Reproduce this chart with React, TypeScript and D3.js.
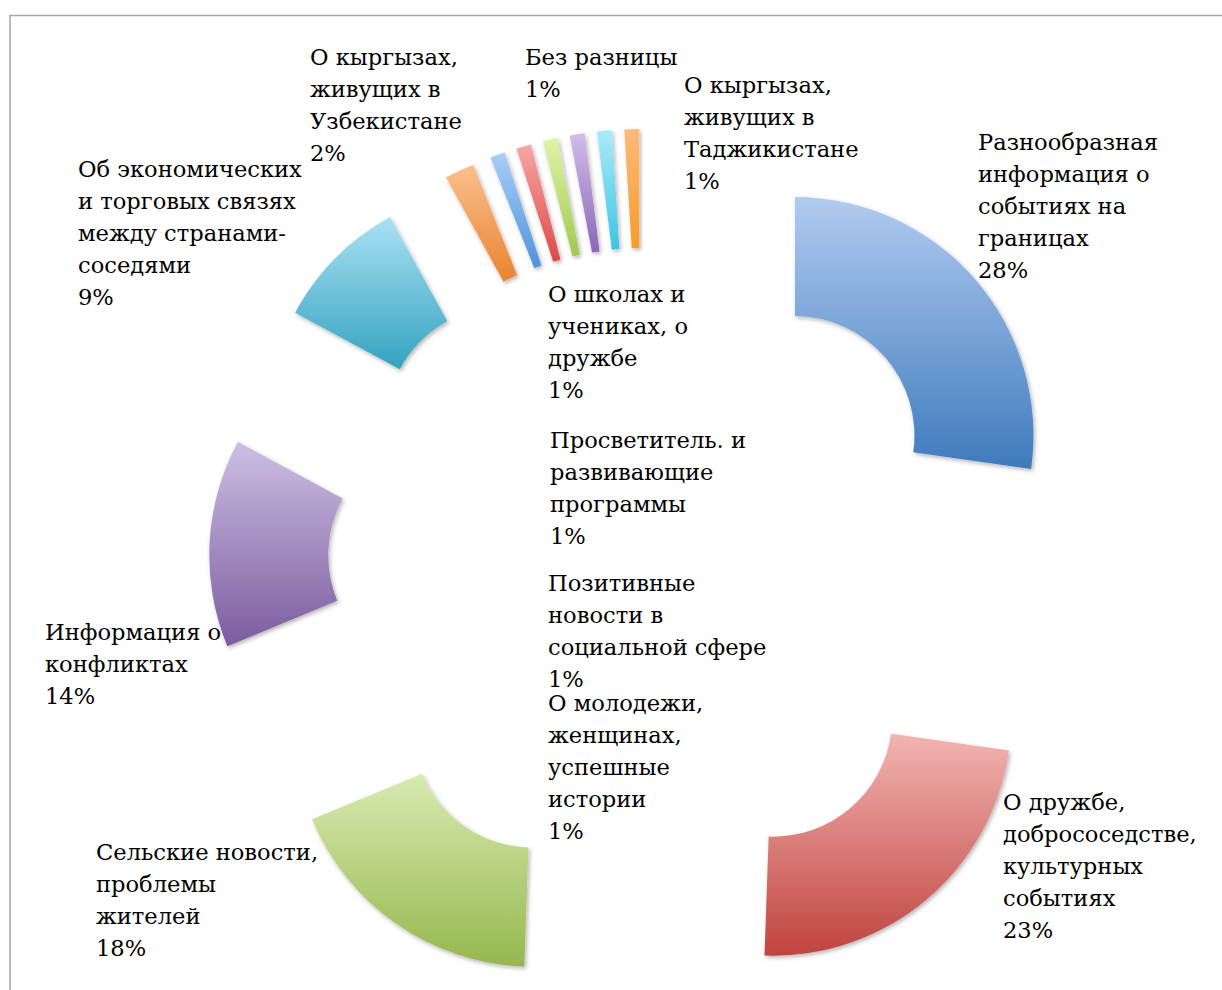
import React from "react";
import * as d3 from "d3";

const categories: string[] = [
  "Разнообразная\nинформация о\nсобытиях на\nграницах",
  "О дружбе,\nдобрососедстве,\nкультурных\nсобытиях",
  "Сельские новости,\nпроблемы\nжителей",
  "Информация о\nконфликтах",
  "Об экономических\nи торговых связях\nмежду странами-\nсоседями",
  "О кыргызах,\nживущих в\nУзбекистане",
  "О школах и\nучениках, о\nдружбе",
  "Просветитель. и\nразвивающие\nпрограммы",
  "Позитивные\nновости в\nсоциальной сфере",
  "О молодежи,\nженщинах,\nуспешные\nистории",
  "Без разницы",
  "О кыргызах,\nживущих в\nТаджикистане",
];

// shares
const values: number[] = [27.2, 23.3, 18.2, 14.1, 9.1, 2.0, 1, 1, 1, 1, 1, 1];
// percentages as printed on the labels
const shownPercents: number[] = [28, 23, 18, 14, 9, 2, 1, 1, 1, 1, 1, 1];

// gradient colours (top, bottom)
const topColors: string[] = [
  "#b1cbf0", "#f2b4b2", "#d8ebb1", "#ccbfe3", "#abe1f3", "#fbbf8f",
  "#a9cdf8", "#f9a6a5", "#e0f3a9", "#d0bceb", "#a9ebf8", "#fcba7a",
];
const bottomColors: string[] = [
  "#3e7bbd", "#c0443f", "#96b74e", "#7b5c9e", "#33a3c0", "#ea832f",
  "#4e93db", "#db4a47", "#a0ca4e", "#8a68b7", "#3cc5e1", "#f89a2c",
];

// label anchor (x, first baseline) – layout only
const labelAnchors: [number, number][] = [
  [978, 150], [1003, 810], [96, 860], [45, 640], [78, 177], [310, 65],
  [548, 302], [550, 448], [548, 591], [548, 711], [525, 65], [684, 93],
];

const W = 1222;
const H = 990;
const CX = 645.5;
const CY = 565.5;
const R_OUT = 238.5;
const R_IN = 119.5;
const EXPLODE = 198;
const LINE_H = 32;
const FONT = "'DejaVu Serif', 'Liberation Serif', serif";

export default function App() {
  const pie = d3
    .pie<number>()
    .sort(null)
    .value((v) => v)
    .startAngle(0)
    .endAngle(2 * Math.PI);
  const arcs = pie(values);
  const arcGen = d3
    .arc<d3.PieArcDatum<number>>()
    .innerRadius(R_IN)
    .outerRadius(R_OUT);

  return (
    <svg
      width={W}
      height={H}
      style={{ position: "absolute", left: 0, top: 0, background: "#fff" }}
    >
      <defs>
        {arcs.map((a, i) => (
          <linearGradient key={i} id={`g${i}`} x1="0" y1="0" x2="0" y2="1">
            <stop offset="0%" stopColor={topColors[i]} />
            <stop offset="100%" stopColor={bottomColors[i]} />
          </linearGradient>
        ))}
        <filter id="sh" x="-20%" y="-20%" width="140%" height="140%">
          <feDropShadow dx="1.5" dy="2" stdDeviation="2" floodColor="#000" floodOpacity="0.3" />
        </filter>
      </defs>
      <rect x={10} y={15.5} width={1400} height={1200} fill="#fff" stroke="#a8a8a8" strokeWidth={1.5} />
      <g>
        {arcs.map((a, i) => {
          const mid = (a.startAngle + a.endAngle) / 2;
          const dx = EXPLODE * Math.sin(mid);
          const dy = -EXPLODE * Math.cos(mid);
          return (
            <path
              key={i}
              d={arcGen(a) || ""}
              transform={`translate(${CX + dx},${CY + dy})`}
              fill={`url(#g${i})`}
              filter="url(#sh)"
            />
          );
        })}
      </g>
      <g fontFamily={FONT} fontSize={22.6} fill="#000">
        {categories.map((c, i) => {
          const lines = [...c.split("\n"), `${shownPercents[i]}%`];
          const [x, y] = labelAnchors[i];
          return (
            <text key={i} x={x} y={y}>
              {lines.map((l, j) => (
                <tspan key={j} x={x} y={y + j * LINE_H}>
                  {l}
                </tspan>
              ))}
            </text>
          );
        })}
      </g>
    </svg>
  );
}
